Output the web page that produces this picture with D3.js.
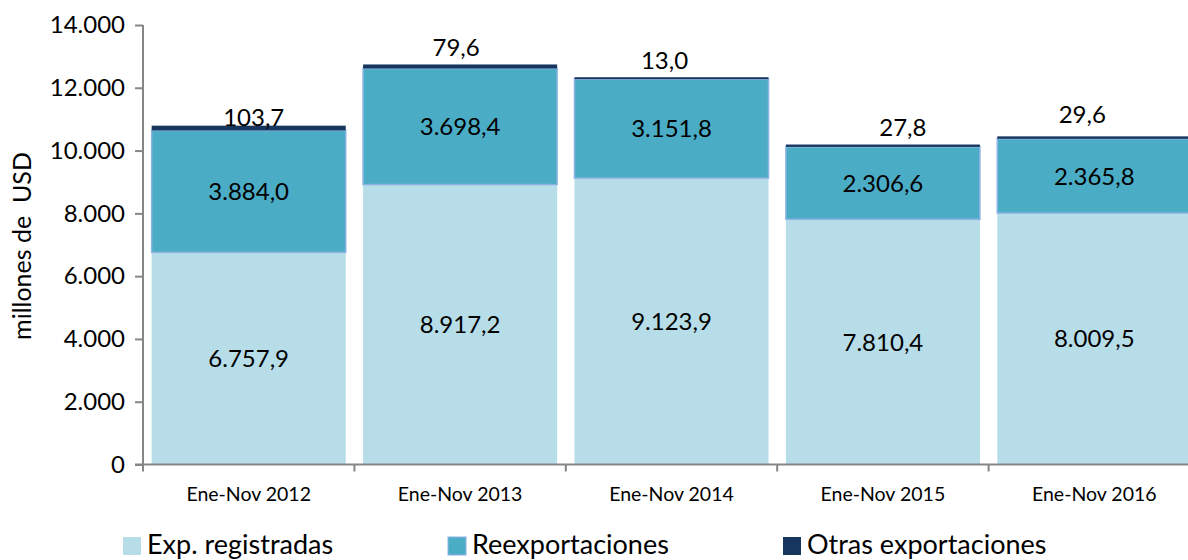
<!DOCTYPE html>
<html><head><meta charset="utf-8">
<script src="https://cdn.jsdelivr.net/npm/d3@7"></script>
<style>
html,body{margin:0;padding:0;background:#fff;}
svg{display:block;font-family:Lato,"Open Sans",sans-serif;}
</style></head>
<body><svg id="c" width="1188" height="560"></svg>
<script>
const categories = ["Ene-Nov 2012","Ene-Nov 2013","Ene-Nov 2014","Ene-Nov 2015","Ene-Nov 2016"];
const expRegistradas = [6757.9, 8917.2, 9123.9, 7810.4, 8009.5];
const reexportaciones = [3884.0, 3698.4, 3151.8, 2306.6, 2365.8];
const otrasExportaciones = [103.7, 79.6, 13.0, 27.8, 29.6];
const seriesNames = ["Exp. registradas","Reexportaciones","Otras exportaciones"];
const yTicks = [0,2000,4000,6000,8000,10000,12000,14000];

// layout nudges for the top labels (dx, dy relative to default spot)
const topLabelNudge = [[5,8],[-4,-1],[-7,-1],[20,-1],[-12,-6]];

const colors = ["#B7DDE8","#4BACC6","#17365D"];
const fmt = v => {
  const s = v.toFixed(1).split(".");
  return s[0].replace(/\B(?=(\d{3})+(?!\d))/g, ".") + "," + s[1];
};

const svg = d3.select("#c");
const x = d3.scaleBand().domain(categories).range([143, 1200]).paddingInner(0.082).paddingOuter(0.041);
const y = d3.scaleLinear().domain([0,14000]).range([464.5, 25]);

const rows = categories.map((c,i)=>({cat:c, exp:expRegistradas[i], re:reexportaciones[i], ot:otrasExportaciones[i]}));
const stack = d3.stack().keys(["exp","re","ot"])(rows);

const g = svg.append("g");
stack.forEach((layer, li) => {
  g.selectAll(null).data(layer).enter().append("rect")
    .attr("x", d => x(d.data.cat))
    .attr("width", x.bandwidth())
    .attr("y", d => y(d[1]) - (li===2 ? 1.5 : 0))
    .attr("height", d => Math.max(0, y(d[0]) - y(d[1])) + (li===2 ? 1.5 : 0))
    .attr("fill", colors[li])
    .attr("stroke", li===1 ? "#8DB3E2" : "none")
    .attr("stroke-width", li===1 ? 1.5 : 0);
});

// axes
const yAxis = d3.axisLeft(y).tickValues(yTicks).tickSize(8).tickPadding(10)
  .tickFormat(d => d3.format(",")(d).replace(/,/g,"."));
const ya = svg.append("g").attr("transform","translate(143,0)").call(yAxis);
ya.selectAll("path,line").attr("stroke","#868686").attr("stroke-width",2);
ya.select(".domain").attr("d","M0,25V464.5");
ya.selectAll("text").attr("font-size",24).attr("fill","#000").attr("font-family","Lato");

const xa = svg.append("g").attr("transform","translate(0,464.5)");
xa.append("line").attr("x1",135).attr("x2",1188).attr("y1",0).attr("y2",0).attr("stroke","#868686").attr("stroke-width",2);
const boundaries = categories.map(c => x(c) - x.step()*x.paddingInner()/2).concat([x(categories[4]) + x.bandwidth() + x.step()*x.paddingInner()/2]);
xa.selectAll(null).data(boundaries).enter().append("line")
  .attr("x1", d=>d).attr("x2", d=>d).attr("y1",0).attr("y2",7)
  .attr("stroke","#868686").attr("stroke-width",2);
xa.selectAll(null).data(categories).enter().append("text")
  .attr("x", d => x(d) + x.bandwidth()/2).attr("y", 36)
  .attr("text-anchor","middle").attr("font-size",19.5).text(d=>d);

// inner labels
[0,1].forEach(li => {
  g.selectAll(null).data(stack[li]).enter().append("text")
    .attr("x", d => x(d.data.cat) + x.bandwidth()/2)
    .attr("y", d => (y(d[0]) + y(d[1]))/2)
    .attr("dy","0.36em")
    .attr("text-anchor","middle").attr("font-size",24)
    .text(d => fmt(d[1]-d[0]));
});
// top labels
g.selectAll(null).data(stack[2]).enter().append("text")
  .attr("x", (d,i) => x(d.data.cat) + x.bandwidth()/2 + topLabelNudge[i][0])
  .attr("y", (d,i) => y(d[1]) - 9 + topLabelNudge[i][1])
  .attr("text-anchor","middle").attr("font-size",24)
  .text(d => fmt(d[1]-d[0]));

// y title
svg.append("text").attr("transform","translate(31,246) rotate(-90)")
  .attr("text-anchor","middle").attr("font-size",25)
  .attr("xml:space","preserve").style("white-space","pre")
  .text("millones de  USD");

// legend
const legX = [123, 448, 783];
const leg = svg.append("g");
seriesNames.forEach((n,i) => {
  leg.append("rect").attr("x",legX[i]).attr("y",537).attr("width",18).attr("height",18)
    .attr("fill",colors[i]).attr("stroke", i===1 ? "#8DB3E2" : "none").attr("stroke-width",1);
  leg.append("text").attr("x",legX[i]+24).attr("y",554).attr("font-size",27).text(n);
});
</script></body></html>
